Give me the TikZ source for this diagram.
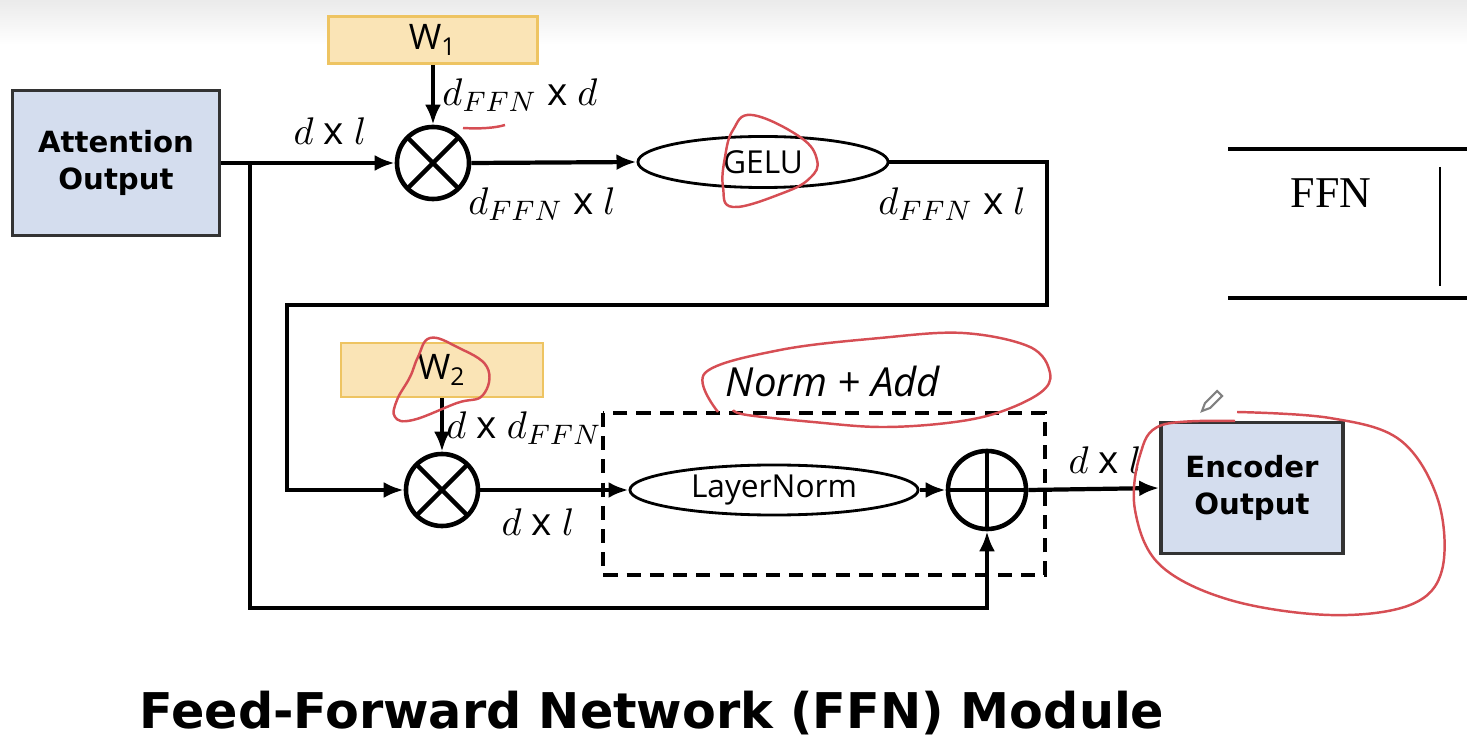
\documentclass[tikz,border=0pt]{standalone}
\usepackage{fontspec}
\setmainfont{DejaVu Sans}
\newfontfamily\lblfont{Open Sans}
\newfontfamily\tabfont{Liberation Serif}
\usetikzlibrary{arrows.meta,positioning,shapes.geometric}
\definecolor{boxblue}{RGB}{212,221,238}
\definecolor{wfill}{RGB}{250,228,182}
\definecolor{wdraw}{RGB}{238,196,98}
\definecolor{pen}{RGB}{214,78,84}
\begin{document}
\begin{tikzpicture}[x=0.01cm,y=-0.01cm,
          >={Latex[length=2mm,width=1.6mm]},
          line width=1.2pt,
          blk/.style={draw=black!80,fill=boxblue,line width=1pt,inner sep=0pt,align=center,
            font=\fontsize{8.3}{10.5}\selectfont\bfseries},
          wbox/.style={draw=wdraw,fill=wfill,line width=0.8pt,inner sep=0pt,
            font=\lblfont\fontsize{10}{12}\selectfont},
          opc/.style={circle,draw,line width=1.3pt,minimum size=0.72cm,inner sep=0pt},
          mul/.style={opc,path picture={\draw[line width=1.3pt]
            (path picture bounding box.north west) -- (path picture bounding box.south east)
            (path picture bounding box.north east) -- (path picture bounding box.south west);}},
          add/.style={opc,minimum size=0.78cm,path picture={\draw[line width=1.3pt]
            (path picture bounding box.north) -- (path picture bounding box.south)
            (path picture bounding box.west) -- (path picture bounding box.east);}},
          ell/.style={ellipse,draw,line width=0.8pt,inner sep=0pt,font=\lblfont\fontsize{9}{11}\selectfont},
          lbl/.style={inner sep=0pt,font=\lblfont\fontsize{11}{13}\selectfont},
          annot/.style={draw=pen,line width=0.7pt}
          ]
          \useasboundingbox (0,0) rectangle (1467,746);
          \shade[top color=black!8,bottom color=white,draw=none] (0,0) rectangle (1467,45);
          % boxes
          \node[blk,minimum width=2.07cm,minimum height=1.45cm] (att) at (116,163) {Attention\\Output};
          \node[wbox,minimum width=2.09cm,minimum height=0.47cm] (w1) at (433,40) {W\textsubscript{1}};
          \node[mul] (mul1) at (433,163) {};
          \node[ell,minimum width=2.5cm,minimum height=0.51cm] (gelu) at (763,162) {GELU};
          \node[wbox,minimum width=2.02cm,minimum height=0.54cm] (w2) at (442,370) {W\textsubscript{2}};
          \node[mul] (mul2) at (442,490) {};
          \node[ell,minimum width=2.88cm,minimum height=0.5cm] (ln) at (774,490) {LayerNorm};
          \node[add] (sum) at (987,490) {};
          \node[blk,minimum width=1.82cm,minimum height=1.31cm] (enc) at (1252,488) {Encoder\\Output};
          \draw[dashed,dash pattern=on 4pt off 2.6pt,line width=1.3pt] (603,413) rectangle (1045,575);
          % connectors
          \coordinate (sp) at (250,163);
          \coordinate (lo) at (250,608);
          \coordinate (rt) at (1047,305);
          \coordinate (lt) at (287,305);
          \draw[->] (att.east) -- (mul1.west);
          \draw[->] (w1.south) -- (mul1.north);
          \draw[->] (mul1.east) -- (gelu.west);
          \draw[->] (gelu.east) -| (rt) -- (lt) |- (mul2.west);
          \draw[->] (w2.south) -- (mul2.north);
          \draw[->] (mul2.east) -- (ln.west);
          \draw[->] (ln.east) -- (sum.west);
          \draw[->] (sum.east) -- (enc.west);
          \draw[->] (sp) -- (lo) -| (sum.south);
          % labels
          \node[lbl] (l1) at (330,131) {$d$ x $l$};
          \node[lbl] (l2) at (520,95) {$d_{FFN}$ x $d$};
          \node[lbl] (l3) at (542,204) {$d_{FFN}$ x $l$};
          \node[lbl] (l4) at (952,204) {$d_{FFN}$ x $l$};
          \node[lbl] (l5) at (524,428) {$d$ x $d_{FFN}$};
          \node[lbl] (l6) at (538,522) {$d$ x $l$};
          \node[lbl] (l7) at (1105,460) {$d$ x $l$};
          \node[lbl,font=\lblfont\itshape\fontsize{11.4}{14}\selectfont] (na) at (833,381) {Norm + Add};
          \node[font=\fontsize{14}{16}\selectfont\bfseries] (title) at (652,713) {Feed-Forward Network (FFN) Module};
          % table on the right
          \draw[line width=1.2pt] (1228,149) -- (1467,149);
          \draw[line width=1.2pt] (1228,298) -- (1467,298);
          \draw[line width=0.8pt] (1440,167) -- (1440,286);
          \node[font=\tabfont\fontsize{12.5}{15}\selectfont] (ffn) at (1331,193) {FFN};
          % pen marks
          \draw[annot] (463,128) .. controls (480,129) and (495,128) .. (505,125);
          \draw[annot] plot[smooth cycle,tension=0.7] coordinates {(752,115) (800,137) (817,160)
            (810,178) (783,193) (733,207) (723,187) (725,157) (733,130)};
          \draw[annot] plot[smooth cycle,tension=0.7] coordinates {(430,338) (457,347) (487,367)
            (483,395) (457,403) (413,420) (395,417) (397,400) (410,377) (418,357)};
          \draw[annot] plot[smooth,tension=0.6] coordinates {(718,412) (705,373) (780,350) (880,338)
            (963,333) (1030,347) (1050,373) (1040,393) (997,413) (947,423) (880,427) (813,422)
            (747,415) (733,410)};
          \draw[annot] plot[smooth,tension=0.6] coordinates {(1237,412) (1330,418) (1400,440)
            (1438,500) (1442,570) (1410,605) (1330,615) (1230,600) (1160,565) (1135,510)
            (1140,455) (1162,425) (1235,421)};
          \draw[gray,line width=0.6pt] (1202,411) -- (1205,403) -- (1217,391) -- (1222,396)
            -- (1210,408) -- cycle;
        \end{tikzpicture}
\end{document}
